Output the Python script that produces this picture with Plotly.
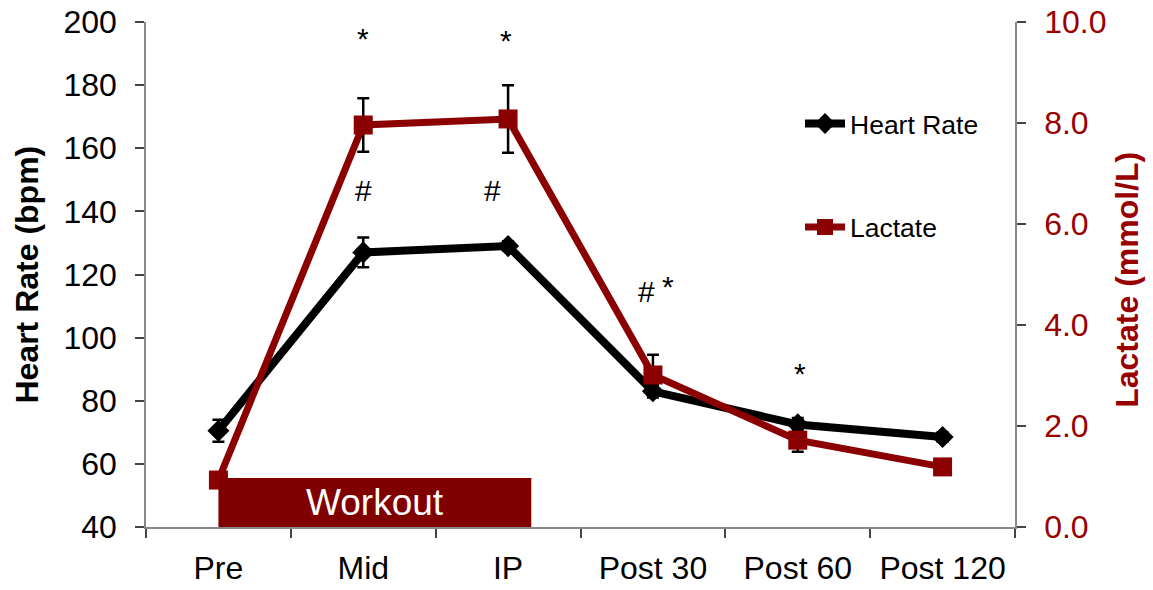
import plotly.graph_objects as go

categories = ["Pre", "Mid", "IP", "Post 30", "Post 60", "Post 120"]
heart_rate = [70.5, 127.0, 129.0, 83.0, 72.5, 68.5]
heart_rate_err = [3.5, 4.7, 1.5, 2.0, 2.0, 1.5]
lactate = [0.93, 7.96, 8.08, 3.01, 1.72, 1.19]
lactate_err = [0.1, 0.53, 0.67, 0.40, 0.23, 0.1]
hr_ticks = [40, 60, 80, 100, 120, 140, 160, 180, 200]
lac_ticks = [0.0, 2.0, 4.0, 6.0, 8.0, 10.0]

# significance markers: (category, y in bpm, text)
sig_marks = [
    ("Mid", 194.8, "*"),
    ("IP", 194.1, "*"),
    ("Mid", 146.6, "#"),
    ("IP", 146.6, "#"),
    ("Post 30", 114.6, "#"),
    ("Post 30", 116.1, "*"),
    ("Post 60", 88.5, "*"),
]
sig_xshift = [0, -2, 0, -16, -6, 15, 2]

FONT = "Arial, Liberation Sans, sans-serif"
DARKRED = "#8B0000"
LABELRED = "#990000"

fig = go.Figure()

fig.add_trace(go.Scatter(
    x=categories, y=heart_rate, name="Heart Rate", mode="lines+markers",
    line=dict(color="black", width=8),
    marker=dict(symbol="diamond", size=17, color="black"),
    error_y=dict(type="data", array=heart_rate_err, color="black", thickness=2.5, width=6),
    legendgroup="hr", yaxis="y",
))
fig.add_trace(go.Scatter(
    x=categories, y=lactate, name="Lactate", mode="lines+markers",
    line=dict(color=DARKRED, width=7),
    marker=dict(symbol="square", size=19, color=DARKRED),
    error_y=dict(type="data", array=lactate_err, color="black", thickness=2.5, width=6),
    legendgroup="lac", yaxis="y2",
))

# Workout box
fig.add_shape(type="rect", xref="x", yref="y", x0=0, x1=2.16, y0=40, y1=55.5,
              fillcolor="#800000", line=dict(width=0), layer="above")
fig.add_annotation(x=1.08, y=47.8, xref="x", yref="y", text="Workout", showarrow=False,
                   font=dict(family=FONT, size=37, color="white"))

for (cat, yv, txt), xs in zip(sig_marks, sig_xshift):
    fig.add_annotation(x=cat, y=yv, xref="x", yref="y", text=txt, showarrow=False,
                       xshift=xs, font=dict(family=FONT, size=30, color="black"))

# axis titles
fig.add_annotation(x=-0.138, y=0.5, xref="paper", yref="paper", text="<b>Heart Rate (bpm)</b>",
                   xanchor="center", yanchor="middle",
                   textangle=-90, showarrow=False, font=dict(family=FONT, size=32, color="black"))
fig.add_annotation(x=1.128, y=0.49, xref="paper", yref="paper", text="<b>Lactate (mmol/L)</b>",
                   xanchor="center", yanchor="middle",
                   textangle=-90, showarrow=False, font=dict(family=FONT, size=32, color=LABELRED))

fig.update_layout(
    width=1153, height=590,
    margin=dict(l=146, r=138, t=22, b=63, autoexpand=False),
    paper_bgcolor="white", plot_bgcolor="white",
    font=dict(family=FONT, size=32, color="black"),
    showlegend=True,
    legend=dict(x=0.7526, y=0.846, xanchor="left", yanchor="top",
                font=dict(family=FONT, size=26.5, color="black"),
                tracegroupgap=66, itemwidth=40, bgcolor="rgba(0,0,0,0)"),
    xaxis=dict(type="category", categoryarray=categories, range=[-0.5, 5.5],
               tickson="boundaries", ticks="outside", ticklen=9, tickwidth=1.5,
               tickcolor="#444", showline=True, linecolor="#888", linewidth=1.5,
               showgrid=False, zeroline=False, ticklabelstandoff=12, automargin=False,
               ticklabeloverflow="allow",
               tickfont=dict(family=FONT, size=32, color="black")),
    yaxis=dict(range=[40, 200], tickvals=hr_ticks, ticks="outside", ticklen=9, tickwidth=1.5,
               tickcolor="#444", showline=True, linecolor="#888", linewidth=1.5,
               showgrid=False, zeroline=False, ticklabelstandoff=12, automargin=False,
               ticklabeloverflow="allow",
               tickfont=dict(family=FONT, size=32, color="black")),
    yaxis2=dict(range=[0, 10], tickvals=lac_ticks, tickformat=".1f", overlaying="y", side="right",
                ticks="outside", ticklen=9, tickwidth=1.5, tickcolor="#444",
                showline=True, linecolor="#888", linewidth=1.5, showgrid=False, zeroline=False,
                ticklabelstandoff=12, automargin=False, ticklabeloverflow="allow",
                tickfont=dict(family=FONT, size=32, color=LABELRED)),
)

fig.write_html("out.html", config={"displayModeBar": False},
               post_script="document.body.style.margin='0';document.body.style.overflow='hidden';")
